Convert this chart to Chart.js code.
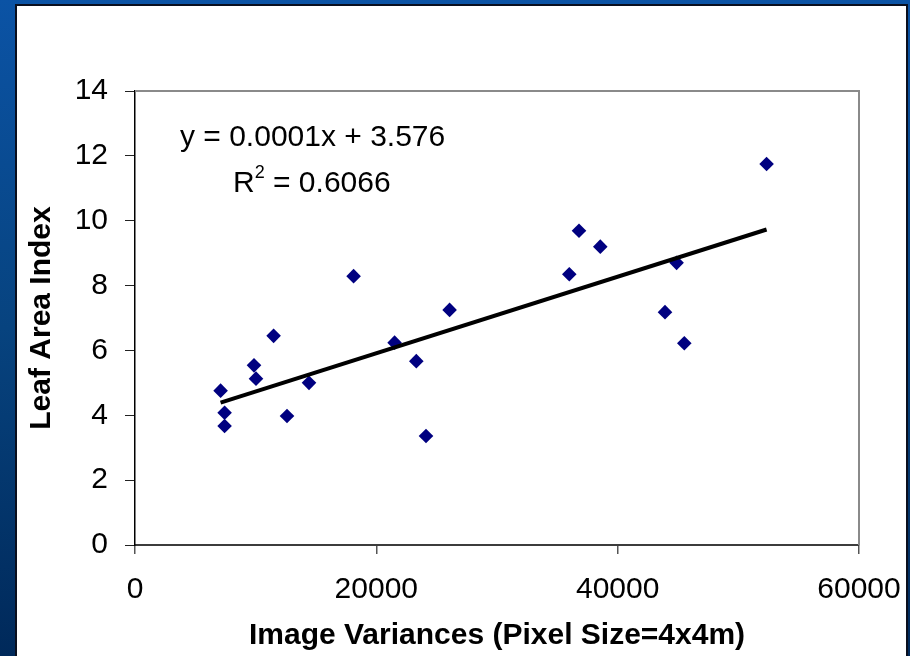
<!DOCTYPE html>
<html><head><meta charset="utf-8">
<script src="https://cdn.jsdelivr.net/npm/chart.js@4"></script>
<style>
html,body{margin:0;padding:0;width:910px;height:656px;overflow:hidden;}
body{background:linear-gradient(180deg,#0b53a5 0%,#07437f 50%,#00295a 100%);position:relative;}
#panel{position:absolute;left:15px;top:4px;width:893px;height:670px;background:#fff;border:2px solid #0a0f1e;box-sizing:border-box;}
canvas{position:absolute;left:0;top:0;}
</style></head><body>
<div id="panel"></div>
<canvas id="c" width="910" height="656"></canvas>
<script>
// Data
const variances = [7094, 7425, 7425, 9862, 10027, 11486, 12597, 14420, 18116, 21514, 23312, 24116, 26072, 35991, 36795, 38560, 43922, 44883, 45522, 52341];
const lai = [4.76, 4.08, 3.67, 5.54, 5.13, 6.45, 3.98, 5.00, 8.29, 6.24, 5.67, 3.36, 7.25, 8.35, 9.69, 9.20, 7.18, 8.70, 6.22, 11.75];
const trendX = [7094, 52341];
const trendY = [4.39, 9.73];
const xTicks = [0, 20000, 40000, 60000];
const yTicks = [0, 2, 4, 6, 8, 10, 12, 14];
const xTitle = 'Image Variances (Pixel Size=4x4m)';
const yTitle = 'Leaf Area Index';
const equationText = 'y = 0.0001x + 3.576';
const r2Main = 'R';
const r2Sup = '2';
const r2Rest = ' = 0.6066';

const FONT = '"Liberation Sans", Arial, Helvetica, sans-serif';

const scatterPts = variances.map((v, i) => ({x: v, y: lai[i]}));
const trendPts = trendX.map((v, i) => ({x: v, y: trendY[i]}));

const framePlugin = {
  id: 'frame',
  beforeDatasetsDraw(chart) {
    const {ctx, chartArea: a} = chart;
    ctx.save();
    ctx.strokeStyle = '#8a8a8a';
    ctx.lineWidth = 2;
    ctx.beginPath();
    ctx.moveTo(a.left, a.top);
    ctx.lineTo(a.right, a.top);
    ctx.lineTo(a.right, a.bottom);
    ctx.stroke();
    ctx.restore();
  }
};

const equationPlugin = {
  id: 'equation',
  afterDraw(chart) {
    const ctx = chart.ctx;
    ctx.save();
    ctx.fillStyle = '#000';
    ctx.textBaseline = 'alphabetic';
    ctx.textAlign = 'left';
    ctx.font = '30px ' + FONT;
    ctx.fillText(equationText, 180, 146);
    let x = 233;
    ctx.fillText(r2Main, x, 192);
    x += ctx.measureText(r2Main).width;
    ctx.font = '18px ' + FONT;
    ctx.fillText(r2Sup, x, 178);
    x += ctx.measureText(r2Sup).width;
    ctx.font = '30px ' + FONT;
    ctx.fillText(r2Rest, x, 192);
    ctx.restore();
  }
};

new Chart(document.getElementById('c'), {
  type: 'scatter',
  data: {
    datasets: [
      {
        label: 'Trend',
        type: 'line',
        data: trendPts,
        borderColor: '#000',
        borderWidth: 4,
        pointRadius: 0,
        fill: false,
        order: 0
      },
      {
        label: 'LAI',
        data: scatterPts,
        pointStyle: 'rectRot',
        pointRadius: 7.3,
        pointHoverRadius: 7.3,
        backgroundColor: '#000080',
        borderColor: '#000080',
        borderWidth: 0,
        order: 1
      }
    ]
  },
  options: {
    responsive: false,
    devicePixelRatio: 1,
    animation: false,
    layout: {padding: {left: 0, top: 91, right: 51, bottom: 0}},
    plugins: {legend: {display: false}, tooltip: {enabled: false}},
    scales: {
      x: {
        type: 'linear',
        min: 0, max: 60000,
        afterBuildTicks: (s) => { s.ticks = xTicks.map(v => ({value: v})); },
        afterFit: (s) => { s.height = 111; s.paddingRight = 0; s.paddingLeft = 0; },
        ticks: {
          color: '#000',
          font: {family: FONT, size: 30},
          padding: 18,
          maxRotation: 0,
          callback: (v) => String(v)
        },
        grid: {display: true, drawOnChartArea: false, drawTicks: true, tickLength: 9, color: '#555', lineWidth: 1.5},
        border: {display: true, color: '#3c3c3c', width: 2},
        title: {
          display: true, text: xTitle, color: '#000',
          font: {family: FONT, size: 30, weight: 'bold'},
          padding: {top: 0, bottom: 2}
        }
      },
      y: {
        type: 'linear',
        min: 0, max: 14,
        afterBuildTicks: (s) => { s.ticks = yTicks.map(v => ({value: v})); },
        afterFit: (s) => { s.width = 135; },
        ticks: {
          color: '#000',
          font: {family: FONT, size: 30},
          padding: 17,
          callback: (v) => String(v)
        },
        grid: {display: true, drawOnChartArea: false, drawTicks: true, tickLength: 10, color: '#222', lineWidth: 1},
        border: {display: true, color: '#000', width: 1.5},
        title: {
          display: true, text: yTitle, color: '#000',
          font: {family: FONT, size: 30, weight: 'bold'},
          padding: {top: 24, bottom: 0}
        }
      }
    }
  },
  plugins: [framePlugin, equationPlugin]
});
</script>
</body></html>
